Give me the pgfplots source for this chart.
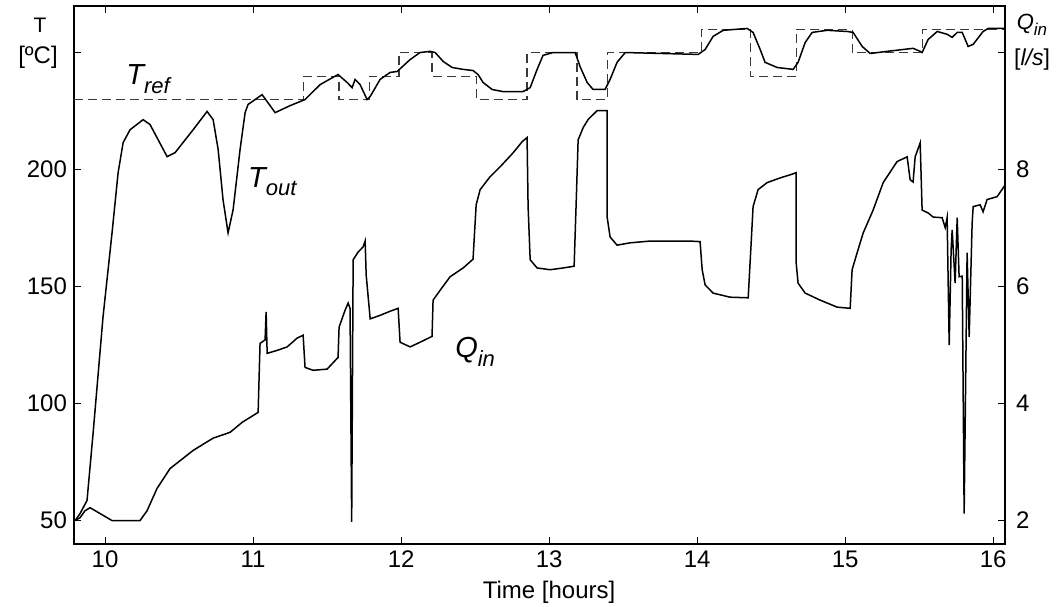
\documentclass[border=0pt]{standalone}
\usepackage{pgfplots}
\pgfplotsset{compat=1.18}
\usepackage{fontspec}
\setmainfont{Liberation Sans}
\begin{document}
\begin{tikzpicture}
\pgfplotsset{
  every axis/.append style={
    width=465.5pt, height=269pt, scale only axis,
    xmin=9.79, xmax=16.08,
    tick align=inside, major tick length=3.5pt,
    axis line style={line width=0.6pt}, every tick/.style={black, line width=0.5pt},
    /pgf/number format/assume math mode=true,
    ticklabel style={font=\fontsize{12}{14}\selectfont},
  },
}
\begin{axis}[
  name=ax,
  ymin=40, ymax=270,
  xtick={10,11,...,16}, xtick pos=both,
  ytick={50,100,150,200,250}, yticklabels={50,100,150,200,{}},
  ytick pos=left,
  clip=false,
]
% T_ref setpoint (dashed, step)
\addplot[const plot, gray!45!black, line width=0.6pt, dash pattern=on 4.5pt off 2.5pt] coordinates {
(9.79,230) (11.338,240) (11.581,230) (11.784,240) (11.986,250) (12.209,240)
(12.507,230) (12.851,250) (13.189,230) (13.392,250) (14.027,260) (14.358,240)
(14.669,260) (15.047,250) (15.520,260) (16.08,260)
};
% T_out
\addplot[black, line width=0.75pt] coordinates {
(9.797,50.0) (9.831,53.0) (9.878,58.6) (9.919,87.3) (9.986,137.0) (10.047,173.0)
(10.088,198.7) (10.122,211.6) (10.169,217.1) (10.257,221.4) (10.304,219.3)
(10.419,205.6) (10.473,207.3) (10.595,217.1) (10.689,224.9) (10.730,221.4)
(10.764,208.6) (10.797,187.1) (10.831,173.0) (10.865,182.9) (10.912,208.6)
(10.946,224.4) (10.966,227.9) (11.061,232.1) (11.149,224.4) (11.250,227.4)
(11.351,230.0) (11.453,236.4) (11.574,240.7) (11.635,237.3) (11.669,235.1)
(11.689,238.6) (11.723,236.4) (11.770,230.0) (11.791,231.3) (11.858,238.6)
(11.926,241.6) (11.973,242.0) (12.061,247.1) (12.128,250.1) (12.196,250.6)
(12.230,250.1) (12.284,246.3) (12.345,243.7) (12.419,242.9) (12.486,242.4)
(12.520,240.7) (12.554,237.3) (12.615,234.3) (12.689,233.4) (12.824,233.4)
(12.872,235.1) (12.919,242.9) (12.959,248.9) (13.027,250.1) (13.122,250.1)
(13.176,250.1) (13.209,244.1) (13.257,237.3) (13.297,234.3) (13.378,234.3)
(13.412,238.6) (13.459,245.9) (13.514,250.1) (14.007,249.3) (14.054,251.4)
(14.108,257.0) (14.176,259.6) (14.338,260.4) (14.378,258.7) (14.426,251.4)
(14.459,245.9) (14.541,243.7) (14.649,242.9) (14.682,245.9) (14.730,254.4)
(14.777,258.7) (14.878,259.6) (15.014,259.1) (15.054,258.7) (15.115,252.7)
(15.169,249.7) (15.284,250.6) (15.459,251.9) (15.507,250.6) (15.520,250.1)
(15.561,255.7) (15.622,259.1) (15.689,257.9) (15.723,256.6) (15.757,258.7)
(15.791,258.7) (15.811,255.7) (15.831,252.7) (15.865,253.6) (15.932,259.1)
(15.966,260.4) (16.080,260.4)
};
\node[font=\fontsize{14.5}{16}\selectfont\itshape] at (axis cs:10.29,238.6)
  {T\raisebox{-0.3em}{\fontsize{11}{12}\selectfont ref}};
\node[font=\fontsize{14.5}{16}\selectfont\itshape] at (axis cs:11.13,194.9)
  {T\raisebox{-0.3em}{\fontsize{11}{12}\selectfont out}};
\node[font=\fontsize{14.5}{16}\selectfont\itshape] at (axis cs:12.5,122)
  {Q\raisebox{-0.3em}{\fontsize{11}{12}\selectfont in}};
\node[font=\fontsize{12}{14}\selectfont] at (axis cs:13.0,40) [yshift=-24pt] {Time [hours]};
\end{axis}
\begin{axis}[
  ymin=1.6, ymax=10.8,
  axis y line*=right, axis x line=none,
  ytick={2,4,6,8,10}, yticklabels={2,4,6,8,{}},
  yticklabel style={xshift=2pt},
]
% Q_in
\addplot[black, line width=0.75pt] coordinates {
(9.797,2.00) (9.831,2.05) (9.865,2.17) (9.899,2.22) (10.047,2.00) (10.236,2.00)
(10.284,2.17) (10.351,2.55) (10.439,2.89) (10.595,3.20) (10.730,3.41) (10.845,3.51)
(10.926,3.68) (11.034,3.85) (11.047,5.03) (11.081,5.09) (11.088,5.57) (11.095,4.86)
(11.162,4.91) (11.230,4.97) (11.297,5.12) (11.338,5.17) (11.351,4.62) (11.405,4.57)
(11.500,4.59) (11.574,4.79) (11.581,5.31) (11.622,5.60) (11.642,5.72) (11.655,5.63)
(11.666,1.98) (11.676,6.46) (11.709,6.59) (11.743,6.68) (11.757,6.78) (11.764,6.20)
(11.791,5.45) (11.858,5.51) (11.926,5.58) (11.980,5.63) (11.993,5.05) (12.061,4.97)
(12.128,5.05) (12.209,5.15) (12.216,5.77) (12.264,5.94) (12.331,6.17) (12.419,6.32)
(12.486,6.47) (12.507,7.40) (12.534,7.66) (12.601,7.88) (12.669,8.05) (12.757,8.29)
(12.818,8.48) (12.851,8.55) (12.858,7.37) (12.872,6.46) (12.919,6.32) (13.007,6.29)
(13.095,6.32) (13.169,6.35) (13.182,7.37) (13.196,8.51) (13.230,8.72) (13.264,8.86)
(13.324,9.01) (13.392,9.01) (13.392,7.19) (13.412,6.85) (13.459,6.71) (13.547,6.75)
(13.682,6.78) (13.953,6.78) (14.020,6.77) (14.034,6.29) (14.054,6.03) (14.108,5.89)
(14.223,5.82) (14.345,5.81) (14.365,6.75) (14.378,7.37) (14.412,7.66) (14.473,7.78)
(14.561,7.86) (14.649,7.93) (14.669,7.95) (14.669,6.41) (14.682,6.06) (14.730,5.89)
(14.831,5.77) (14.946,5.65) (15.034,5.63) (15.047,6.29) (15.081,6.58) (15.122,6.92)
(15.189,7.31) (15.257,7.78) (15.351,8.14) (15.419,8.22) (15.439,7.83) (15.459,7.79)
(15.473,8.22) (15.507,8.46) (15.520,7.31) (15.561,7.26) (15.595,7.19) (15.655,7.18)
(15.676,7.01) (15.689,7.18) (15.703,5.00) (15.716,6.63) (15.723,6.97) (15.743,6.06)
(15.757,7.18) (15.770,6.17) (15.791,6.18) (15.804,2.12) (15.824,6.58) (15.838,5.14)
(15.858,7.09) (15.865,7.37) (15.912,7.40) (15.932,7.28) (15.959,7.49) (16.027,7.54)
(16.081,7.74)
};
\end{axis}
\node[font=\fontsize{10.5}{12}\selectfont] at ([shift={(-17pt,-9.5pt)}]ax.north west) {T};
\node[font=\fontsize{12}{14}\selectfont] at ([shift={(-18pt,-25.5pt)}]ax.north west) {[ºC]};
\node[font=\fontsize{11}{13}\selectfont\itshape] at ([shift={(13.5pt,-9.5pt)}]ax.north east)
  {Q\raisebox{-0.3em}{\fontsize{8.5}{10}\selectfont in}};
\node[font=\fontsize{11.5}{13}\selectfont] at ([shift={(13.5pt,-27pt)}]ax.north east) {[\textit{l/s}]};
\pgfresetboundingbox
\path ([shift={(-37pt,-31.5pt)}]ax.south west) rectangle ([shift={(26.5pt,3pt)}]ax.north east);
\end{tikzpicture}
\end{document}
